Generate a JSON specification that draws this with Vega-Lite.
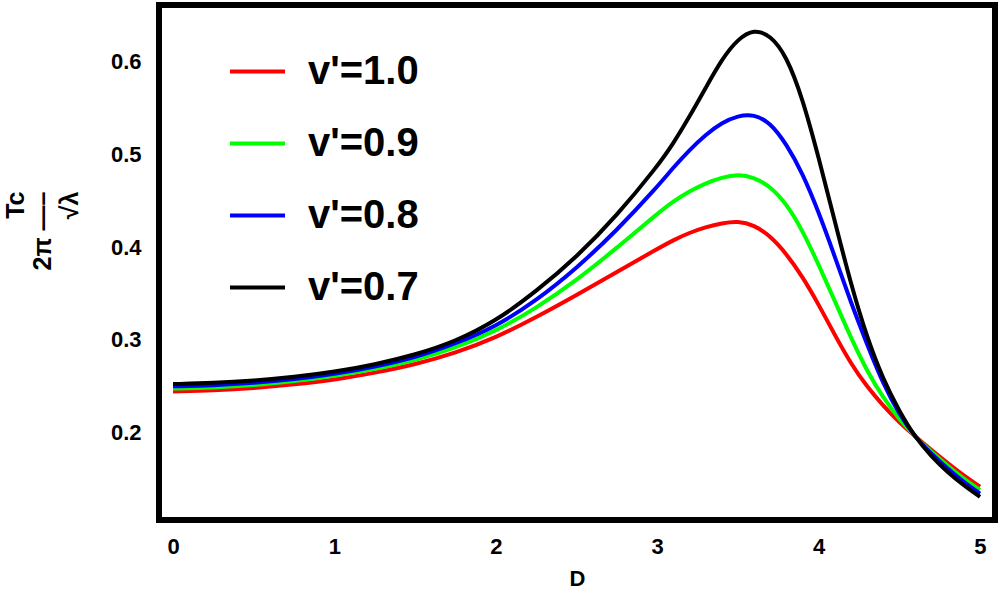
{
  "$schema": "https://vega.github.io/schema/vega-lite/v6.json",
  "width": 836,
  "height": 515,
  "autosize": "none",
  "padding": {"left": 159, "top": 5, "right": 5, "bottom": 86},
  "background": "white",
  "datasets": {
    "curves": [
      {"v": "v'=1.0", "D": 0, "T": 0.2440}, {"v": "v'=1.0", "D": 0.25, "T": 0.2450}, {"v": "v'=1.0", "D": 0.5, "T": 0.2475}, {"v": "v'=1.0", "D": 0.75, "T": 0.2515},
      {"v": "v'=1.0", "D": 1, "T": 0.2565}, {"v": "v'=1.0", "D": 1.25, "T": 0.264}, {"v": "v'=1.0", "D": 1.5, "T": 0.273}, {"v": "v'=1.0", "D": 1.75, "T": 0.2855},
      {"v": "v'=1.0", "D": 2, "T": 0.302}, {"v": "v'=1.0", "D": 2.25, "T": 0.324}, {"v": "v'=1.0", "D": 2.5, "T": 0.348}, {"v": "v'=1.0", "D": 2.75, "T": 0.373},
      {"v": "v'=1.0", "D": 3, "T": 0.398}, {"v": "v'=1.0", "D": 3.1, "T": 0.4075}, {"v": "v'=1.0", "D": 3.2, "T": 0.4155}, {"v": "v'=1.0", "D": 3.3, "T": 0.4215},
      {"v": "v'=1.0", "D": 3.4, "T": 0.4258}, {"v": "v'=1.0", "D": 3.5, "T": 0.4282}, {"v": "v'=1.0", "D": 3.6, "T": 0.4238}, {"v": "v'=1.0", "D": 3.7, "T": 0.412},
      {"v": "v'=1.0", "D": 3.8, "T": 0.393}, {"v": "v'=1.0", "D": 3.9, "T": 0.368}, {"v": "v'=1.0", "D": 4, "T": 0.338}, {"v": "v'=1.0", "D": 4.1, "T": 0.305},
      {"v": "v'=1.0", "D": 4.2, "T": 0.274}, {"v": "v'=1.0", "D": 4.3, "T": 0.249}, {"v": "v'=1.0", "D": 4.4, "T": 0.2285}, {"v": "v'=1.0", "D": 4.5, "T": 0.2105},
      {"v": "v'=1.0", "D": 4.6, "T": 0.195}, {"v": "v'=1.0", "D": 4.7, "T": 0.1805}, {"v": "v'=1.0", "D": 4.8, "T": 0.1665}, {"v": "v'=1.0", "D": 4.9, "T": 0.153},
      {"v": "v'=1.0", "D": 5, "T": 0.141},

      {"v": "v'=0.9", "D": 0, "T": 0.2470}, {"v": "v'=0.9", "D": 0.25, "T": 0.2480}, {"v": "v'=0.9", "D": 0.5, "T": 0.2505}, {"v": "v'=0.9", "D": 0.75, "T": 0.2550},
      {"v": "v'=0.9", "D": 1, "T": 0.2605}, {"v": "v'=0.9", "D": 1.25, "T": 0.268}, {"v": "v'=0.9", "D": 1.5, "T": 0.2775}, {"v": "v'=0.9", "D": 1.75, "T": 0.291},
      {"v": "v'=0.9", "D": 2, "T": 0.309}, {"v": "v'=0.9", "D": 2.25, "T": 0.334}, {"v": "v'=0.9", "D": 2.5, "T": 0.364}, {"v": "v'=0.9", "D": 2.75, "T": 0.399},
      {"v": "v'=0.9", "D": 3, "T": 0.436}, {"v": "v'=0.9", "D": 3.1, "T": 0.4495}, {"v": "v'=0.9", "D": 3.2, "T": 0.4605}, {"v": "v'=0.9", "D": 3.3, "T": 0.469},
      {"v": "v'=0.9", "D": 3.4, "T": 0.4752}, {"v": "v'=0.9", "D": 3.5, "T": 0.4786}, {"v": "v'=0.9", "D": 3.6, "T": 0.4755}, {"v": "v'=0.9", "D": 3.7, "T": 0.4655},
      {"v": "v'=0.9", "D": 3.8, "T": 0.447}, {"v": "v'=0.9", "D": 3.9, "T": 0.418}, {"v": "v'=0.9", "D": 4, "T": 0.381}, {"v": "v'=0.9", "D": 4.1, "T": 0.342},
      {"v": "v'=0.9", "D": 4.2, "T": 0.302}, {"v": "v'=0.9", "D": 4.3, "T": 0.266}, {"v": "v'=0.9", "D": 4.4, "T": 0.237}, {"v": "v'=0.9", "D": 4.5, "T": 0.214},
      {"v": "v'=0.9", "D": 4.6, "T": 0.1945}, {"v": "v'=0.9", "D": 4.7, "T": 0.1785}, {"v": "v'=0.9", "D": 4.8, "T": 0.1635}, {"v": "v'=0.9", "D": 4.9, "T": 0.1495},
      {"v": "v'=0.9", "D": 5, "T": 0.1375},

      {"v": "v'=0.8", "D": 0, "T": 0.2495}, {"v": "v'=0.8", "D": 0.25, "T": 0.2505}, {"v": "v'=0.8", "D": 0.5, "T": 0.2530}, {"v": "v'=0.8", "D": 0.75, "T": 0.2570},
      {"v": "v'=0.8", "D": 1, "T": 0.2625}, {"v": "v'=0.8", "D": 1.25, "T": 0.2705}, {"v": "v'=0.8", "D": 1.5, "T": 0.2805}, {"v": "v'=0.8", "D": 1.75, "T": 0.2955},
      {"v": "v'=0.8", "D": 2, "T": 0.314}, {"v": "v'=0.8", "D": 2.25, "T": 0.342}, {"v": "v'=0.8", "D": 2.5, "T": 0.377}, {"v": "v'=0.8", "D": 2.75, "T": 0.418},
      {"v": "v'=0.8", "D": 3, "T": 0.465}, {"v": "v'=0.8", "D": 3.1, "T": 0.486}, {"v": "v'=0.8", "D": 3.2, "T": 0.505}, {"v": "v'=0.8", "D": 3.3, "T": 0.5215},
      {"v": "v'=0.8", "D": 3.4, "T": 0.5345}, {"v": "v'=0.8", "D": 3.5, "T": 0.5420}, {"v": "v'=0.8", "D": 3.6, "T": 0.5435}, {"v": "v'=0.8", "D": 3.7, "T": 0.5345},
      {"v": "v'=0.8", "D": 3.8, "T": 0.5115}, {"v": "v'=0.8", "D": 3.9, "T": 0.480}, {"v": "v'=0.8", "D": 4, "T": 0.438}, {"v": "v'=0.8", "D": 4.1, "T": 0.390},
      {"v": "v'=0.8", "D": 4.2, "T": 0.340}, {"v": "v'=0.8", "D": 4.3, "T": 0.295}, {"v": "v'=0.8", "D": 4.4, "T": 0.252}, {"v": "v'=0.8", "D": 4.5, "T": 0.219},
      {"v": "v'=0.8", "D": 4.6, "T": 0.194}, {"v": "v'=0.8", "D": 4.7, "T": 0.1765}, {"v": "v'=0.8", "D": 4.8, "T": 0.1605}, {"v": "v'=0.8", "D": 4.9, "T": 0.146},
      {"v": "v'=0.8", "D": 5, "T": 0.1335},

      {"v": "v'=0.7", "D": 0, "T": 0.2519}, {"v": "v'=0.7", "D": 0.25, "T": 0.2530}, {"v": "v'=0.7", "D": 0.5, "T": 0.2555}, {"v": "v'=0.7", "D": 0.75, "T": 0.2595},
      {"v": "v'=0.7", "D": 1, "T": 0.265}, {"v": "v'=0.7", "D": 1.25, "T": 0.273}, {"v": "v'=0.7", "D": 1.5, "T": 0.2835}, {"v": "v'=0.7", "D": 1.75, "T": 0.298},
      {"v": "v'=0.7", "D": 2, "T": 0.320}, {"v": "v'=0.7", "D": 2.25, "T": 0.352}, {"v": "v'=0.7", "D": 2.5, "T": 0.389}, {"v": "v'=0.7", "D": 2.75, "T": 0.434},
      {"v": "v'=0.7", "D": 3, "T": 0.487}, {"v": "v'=0.7", "D": 3.1, "T": 0.512}, {"v": "v'=0.7", "D": 3.2, "T": 0.541}, {"v": "v'=0.7", "D": 3.3, "T": 0.572},
      {"v": "v'=0.7", "D": 3.4, "T": 0.603}, {"v": "v'=0.7", "D": 3.5, "T": 0.625}, {"v": "v'=0.7", "D": 3.6, "T": 0.6355}, {"v": "v'=0.7", "D": 3.7, "T": 0.629},
      {"v": "v'=0.7", "D": 3.8, "T": 0.607}, {"v": "v'=0.7", "D": 3.9, "T": 0.561}, {"v": "v'=0.7", "D": 4, "T": 0.497}, {"v": "v'=0.7", "D": 4.1, "T": 0.428},
      {"v": "v'=0.7", "D": 4.2, "T": 0.360}, {"v": "v'=0.7", "D": 4.3, "T": 0.302}, {"v": "v'=0.7", "D": 4.4, "T": 0.257}, {"v": "v'=0.7", "D": 4.5, "T": 0.2225},
      {"v": "v'=0.7", "D": 4.6, "T": 0.194}, {"v": "v'=0.7", "D": 4.7, "T": 0.1735}, {"v": "v'=0.7", "D": 4.8, "T": 0.1565}, {"v": "v'=0.7", "D": 4.9, "T": 0.1425},
      {"v": "v'=0.7", "D": 5, "T": 0.130}
    ]
  },
  "data": {"name": "curves"},
  "mark": {"type": "line", "interpolate": "basis", "strokeWidth": 4, "clip": true},
  "encoding": {
    "x": {
      "field": "D",
      "type": "quantitative",
      "scale": {"domain": [-0.087, 5.093], "nice": false, "zero": false},
      "axis": {
        "values": [0, 1, 2, 3, 4, 5],
        "format": "d",
        "title": "D",
        "labelPadding": 16,
        "titlePadding": 11
      }
    },
    "y": {
      "field": "T",
      "type": "quantitative",
      "scale": {"domain": [0.105, 0.6616], "nice": false, "zero": false},
      "axis": {
        "values": [0.2, 0.3, 0.4, 0.5, 0.6],
        "format": ".1f",
        "labelPadding": 18,
        "title": ["Tc", "2π —–", "√λ"],
        "titleX": -144,
        "titleY": 186,
        "titleAngle": -90,
        "titleAlign": "right",
        "titleBaseline": "middle",
        "titleFontSize": 25,
        "titleLineHeight": 27
      }
    },
    "color": {
      "field": "v",
      "type": "nominal",
      "scale": {
        "domain": ["v'=1.0", "v'=0.9", "v'=0.8", "v'=0.7"],
        "range": ["#ff0000", "#00ff00", "#0000ff", "#000000"]
      },
      "legend": {
        "title": null,
        "orient": "none",
        "legendX": 69,
        "legendY": 37,
        "padding": 0,
        "symbolType": "stroke",
        "symbolSize": 3025,
        "symbolStrokeWidth": 4,
        "labelFontSize": 40,
        "labelFont": "Liberation Sans",
        "labelFontWeight": "bold",
        "labelColor": "black",
        "labelOffset": 21,
        "rowPadding": 22
      }
    }
  },
  "config": {
    "view": {"stroke": "black", "strokeWidth": 6},
    "axis": {
      "domain": false,
      "grid": false,
      "ticks": false,
      "labelFont": "Liberation Sans",
      "labelFontWeight": "bold",
      "labelFontSize": 22,
      "labelColor": "black",
      "titleFont": "Liberation Sans",
      "titleFontWeight": "bold",
      "titleFontSize": 22,
      "titleColor": "black"
    }
  }
}
